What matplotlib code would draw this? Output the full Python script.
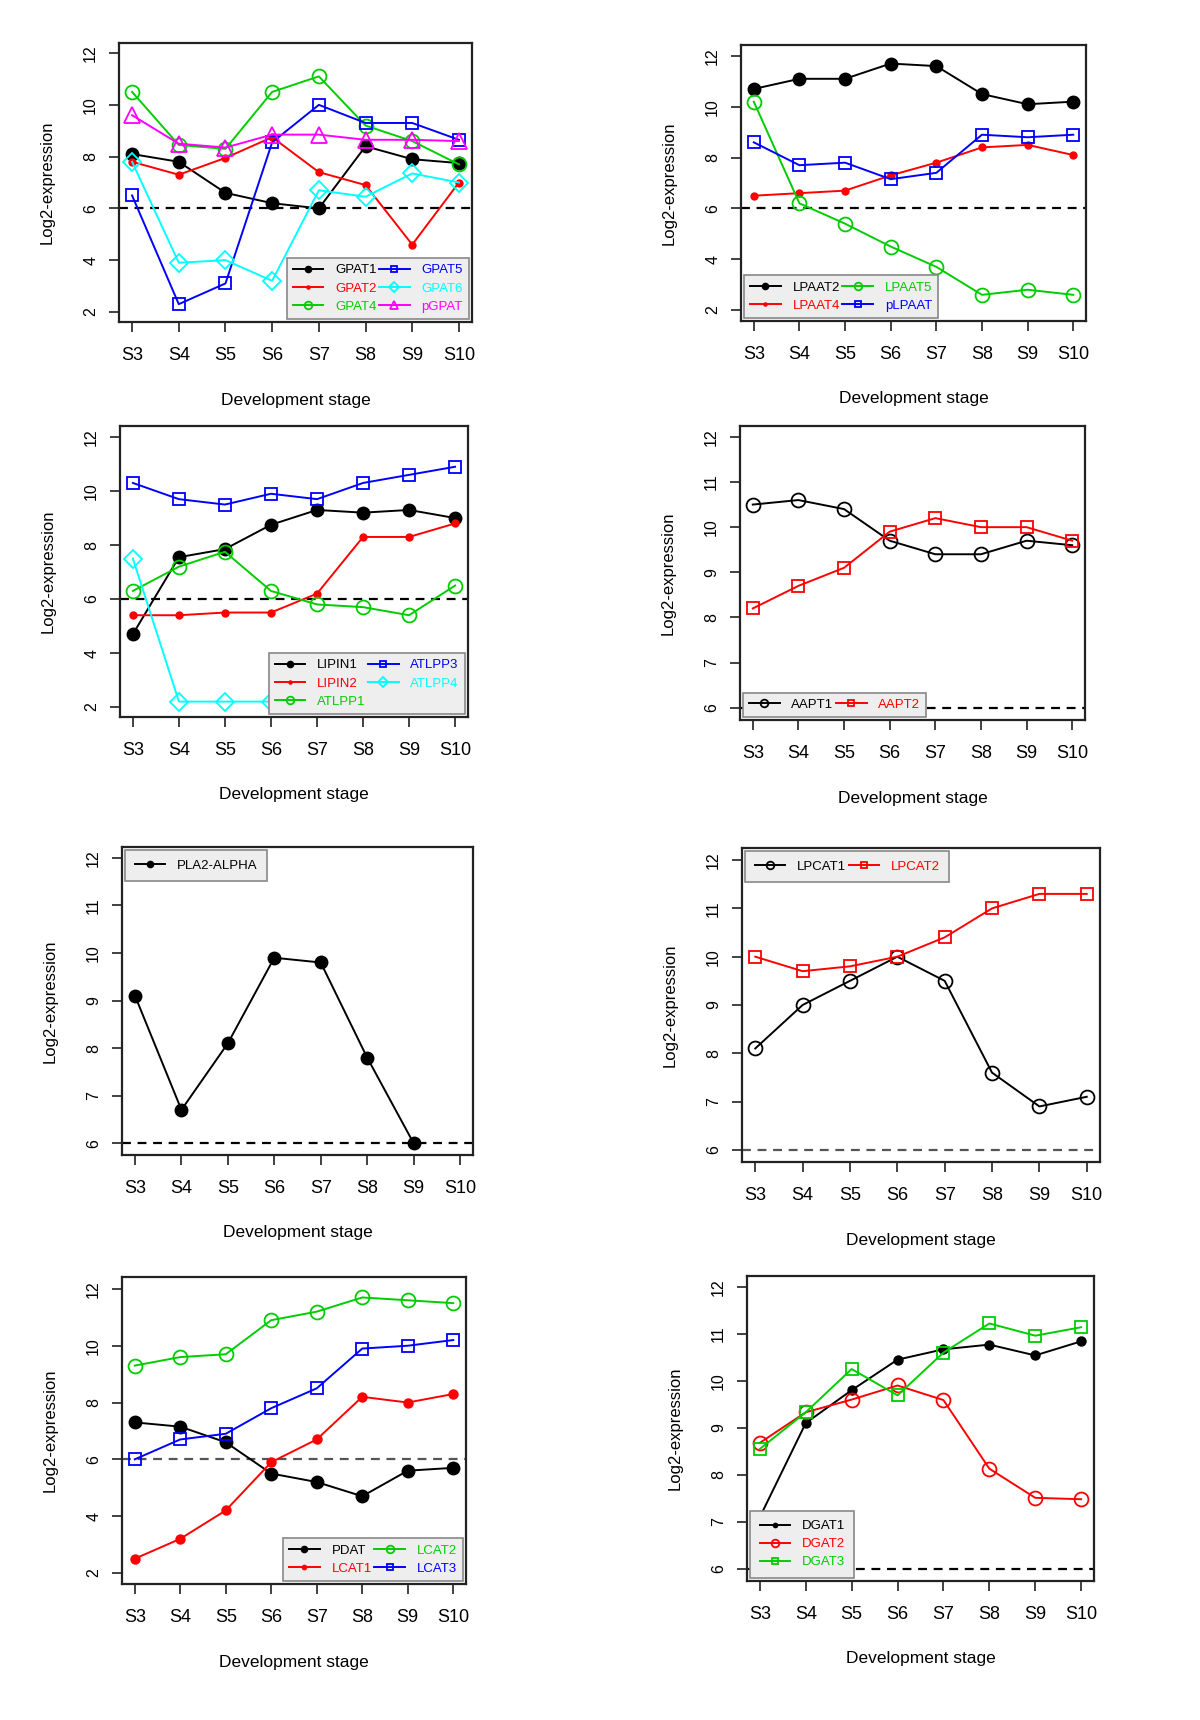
import matplotlib.pyplot as plt
import numpy as np

plt.rcParams['font.family'] = ['Liberation Sans', 'DejaVu Sans']

W, H = 1200, 1720

stages = ['S3', 'S4', 'S5', 'S6', 'S7', 'S8', 'S9', 'S10']

# panel 1: GPAT
gpat1 = [8.1, 7.8, 6.6, 6.2, 6.0, 8.4, 7.9, 7.75]
gpat2 = [7.8, 7.3, 7.95, 8.75, 7.4, 6.9, 4.6, 7.0]
gpat4 = [10.5, 8.45, 8.3, 10.5, 11.1, 9.2, 8.6, 7.7]
gpat5 = [6.5, 2.3, 3.1, 8.55, 10.0, 9.3, 9.3, 8.65]
gpat6 = [7.8, 3.9, 4.0, 3.2, 6.7, 6.45, 7.35, 7.0]
pgpat = [9.6, 8.5, 8.35, 8.85, 8.85, 8.65, 8.65, 8.6]

# panel 2: LPAAT
lpaat2 = [10.7, 11.1, 11.1, 11.7, 11.6, 10.5, 10.1, 10.2]
lpaat4 = [6.5, 6.6, 6.7, 7.3, 7.8, 8.4, 8.5, 8.1]
lpaat5 = [10.2, 6.2, 5.4, 4.5, 3.7, 2.6, 2.8, 2.6]
plpaat = [8.6, 7.7, 7.8, 7.15, 7.4, 8.9, 8.8, 8.9]

# panel 3: LIPIN / ATLPP
lipin1 = [4.7, 7.55, 7.85, 8.75, 9.3, 9.2, 9.3, 9.0]
lipin2 = [5.4, 5.4, 5.5, 5.5, 6.2, 8.3, 8.3, 8.8]
atlpp1 = [6.3, 7.2, 7.75, 6.3, 5.8, 5.7, 5.4, 6.5]
atlpp3 = [10.3, 9.7, 9.5, 9.9, 9.7, 10.3, 10.6, 10.9]
atlpp4 = [7.5, 2.2, 2.2, 2.2, 2.2, 2.2, 2.2, 2.2]

# panel 4: AAPT
aapt1 = [10.5, 10.6, 10.4, 9.7, 9.4, 9.4, 9.7, 9.6]
aapt2 = [8.2, 8.7, 9.1, 9.9, 10.2, 10.0, 10.0, 9.7]

# panel 5: PLA2-ALPHA
pla2_alpha = [9.1, 6.7, 8.1, 9.9, 9.8, 7.8, 6.0, np.nan]

# panel 6: LPCAT
lpcat1 = [8.1, 9.0, 9.5, 10.0, 9.5, 7.6, 6.9, 7.1]
lpcat2 = [10.0, 9.7, 9.8, 10.0, 10.4, 11.0, 11.3, 11.3]

# panel 7: PDAT / LCAT
pdat = [7.3, 7.15, 6.6, 5.5, 5.2, 4.7, 5.6, 5.7]
lcat1 = [2.5, 3.2, 4.2, 5.9, 6.7, 8.2, 8.0, 8.3]
lcat2 = [9.3, 9.6, 9.7, 10.9, 11.2, 11.7, 11.6, 11.5]
lcat3 = [6.0, 6.7, 6.9, 7.8, 8.5, 9.9, 10.0, 10.2]

# panel 8: DGAT
dgat1 = [7.1, 9.1, 9.8, 10.45, 10.67, 10.77, 10.54, 10.84]
dgat2 = [8.68, 9.33, 9.6, 9.9, 9.59, 8.13, 7.51, 7.48]
dgat3 = [8.55, 9.33, 10.25, 9.69, 10.6, 11.22, 10.96, 11.14]

GREEN = '#00CD00'

# marker styles (R pch look-alikes)
BIG_DOT = dict(marker='o', ms=10, mfc='auto', mew=0)
SMALL_DOT = dict(marker='o', ms=6, mfc='auto', mew=0)
MID_DOT = dict(marker='o', ms=7.5, mfc='auto', mew=0)
CIRCLE = dict(marker='o', ms=10, mfc='none', mew=1.3)
SQUARE = dict(marker='s', ms=9, mfc='none', mew=1.3)
DIAMOND = dict(marker='D', ms=9, mfc='none', mew=1.3)
TRIANGLE = dict(marker='^', ms=11, mfc='none', mew=1.3)

fig = plt.figure(figsize=(12, 17.2), dpi=100)


def panel(box, ylim, yticks, series, loc, ncol, dash_color='black',
          borderpad=0.45):
    l, t, r, b = box
    w, h = r - l, b - t
    ax = fig.add_axes([l / W, 1 - b / H, w / W, h / H])
    x = np.arange(len(stages))
    ax.axhline(6, color=dash_color, ls=(0, (4, 3)), lw=1.6, zorder=1.5)
    for name, vals, color, style in series:
        st = dict(style)
        if st['mfc'] == 'auto':
            st['mfc'] = color
        ax.plot(x, vals, color=color, lw=1.4, label=name, zorder=2, **st)
    ax.set_xlim(-0.28, 7.28)
    ax.set_ylim(*ylim)
    ax.set_xticks(x)
    ax.set_xticklabels(stages, fontsize=13)
    ax.set_yticks(yticks)
    ax.set_yticklabels([str(v) for v in yticks], fontsize=11.5)
    ax.tick_params(axis='x', length=7, width=1.3, color='#333333', pad=11)
    ax.tick_params(axis='y', length=7, width=1.3, color='#333333', pad=8,
                   labelrotation=90)
    for lab in ax.get_yticklabels():
        lab.set_va('center')
    for sp in ax.spines.values():
        sp.set_linewidth(1.6)
        sp.set_color('#222222')
    ax.set_xlabel('Development stage', fontsize=12.5, va='center')
    ax.xaxis.set_label_coords(0.5, -78 / h)
    ax.set_ylabel('Log2-expression', fontsize=12, va='center')
    ax.yaxis.set_label_coords(-72 / w, 0.5)
    leg = ax.legend(loc=loc, ncol=ncol, fontsize=9.5, markerscale=0.55,
                    fancybox=False, framealpha=1, facecolor='#eeeeee',
                    edgecolor='#888888', borderaxespad=0.25,
                    handlelength=2.3, handletextpad=0.9, columnspacing=0.2,
                    labelspacing=0.45, borderpad=borderpad)
    leg.set_zorder(5)
    leg.get_frame().set_linewidth(1.2)
    for txt, ln in zip(leg.get_texts(), leg.get_lines()):
        txt.set_color(ln.get_color())
    return ax


ticks_2_12 = [2, 4, 6, 8, 10, 12]
ticks_6_12 = [6, 7, 8, 9, 10, 11, 12]

panel((119, 43, 472, 322), (1.61, 12.39), ticks_2_12, [
    ('GPAT1', gpat1, 'black', BIG_DOT),
    ('GPAT2', gpat2, 'red', SMALL_DOT),
    ('GPAT4', gpat4, GREEN, CIRCLE),
    ('GPAT5', gpat5, 'blue', SQUARE),
    ('GPAT6', gpat6, 'cyan', DIAMOND),
    ('pGPAT', pgpat, 'magenta', TRIANGLE),
], 'lower right', 2)

panel((741, 45, 1086, 321), (1.57, 12.43), ticks_2_12, [
    ('LPAAT2', lpaat2, 'black', BIG_DOT),
    ('LPAAT4', lpaat4, 'red', SMALL_DOT),
    ('LPAAT5', lpaat5, GREEN, CIRCLE),
    ('pLPAAT', plpaat, 'blue', SQUARE),
], 'lower left', 2)

panel((120, 426, 468, 717), (1.63, 12.41), ticks_2_12, [
    ('LIPIN1', lipin1, 'black', BIG_DOT),
    ('LIPIN2', lipin2, 'red', SMALL_DOT),
    ('ATLPP1', atlpp1, GREEN, CIRCLE),
    ('ATLPP3', atlpp3, 'blue', SQUARE),
    ('ATLPP4', atlpp4, 'cyan', DIAMOND),
], 'lower right', 2)

panel((740, 426, 1085, 720), (5.73, 12.24), ticks_6_12, [
    ('AAPT1', aapt1, 'black', CIRCLE),
    ('AAPT2', aapt2, 'red', SQUARE),
], 'lower left', 2)

panel((122, 847, 473, 1155), (5.75, 12.23), ticks_6_12, [
    ('PLA2-ALPHA', pla2_alpha, 'black', BIG_DOT),
], 'upper left', 1, borderpad=0.7)

panel((742, 848, 1100, 1162), (5.75, 12.25), ticks_6_12, [
    ('LPCAT1', lpcat1, 'black', CIRCLE),
    ('LPCAT2', lpcat2, 'red', SQUARE),
], 'upper left', 2, dash_color='#555555', borderpad=0.7)

panel((122, 1277, 466, 1584), (1.61, 12.42), ticks_2_12, [
    ('PDAT', pdat, 'black', BIG_DOT),
    ('LCAT1', lcat1, 'red', MID_DOT),
    ('LCAT2', lcat2, GREEN, CIRCLE),
    ('LCAT3', lcat3, 'blue', SQUARE),
], 'lower right', 2, dash_color='#555555')

panel((747, 1276, 1094, 1581), (5.74, 12.23), ticks_6_12, [
    ('DGAT1', dgat1, 'black', MID_DOT),
    ('DGAT2', dgat2, 'red', CIRCLE),
    ('DGAT3', dgat3, GREEN, SQUARE),
], 'lower left', 1, borderpad=0.7)

fig.savefig('out.png', dpi=100)
